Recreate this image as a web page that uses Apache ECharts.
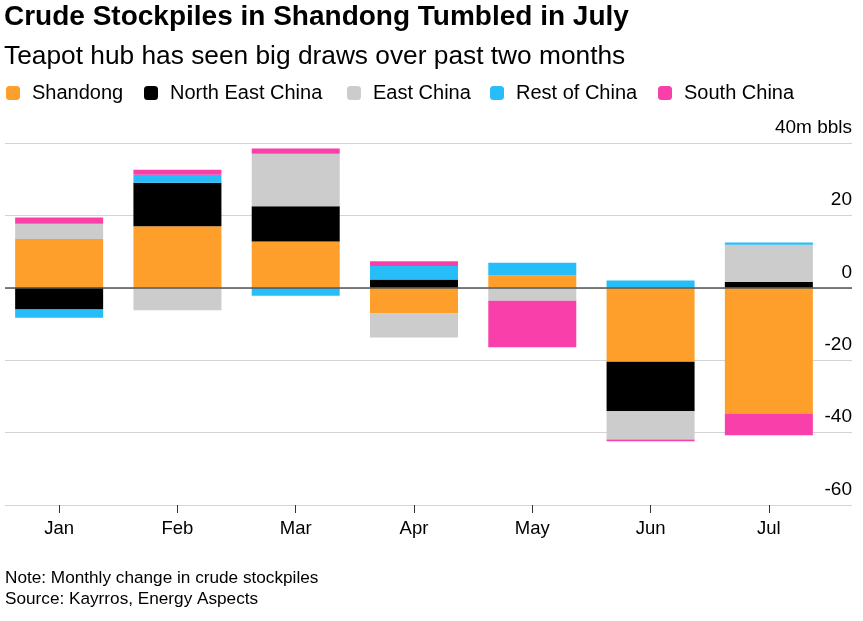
<!DOCTYPE html>
<html>
  <head>
    <meta charset="utf-8">
    <title>Crude Stockpiles in Shandong</title>
    <script src="https://cdn.jsdelivr.net/npm/echarts@6/dist/echarts.min.js"></script>
    <style>
      html, body { margin: 0; padding: 0; background: #fff; }
      #main { width: 863px; height: 621px; }
    </style>
  </head>
  <body>
    <div id="main"></div>
    <script>
        // monthly change in crude stockpiles, million barrels
        const months = ['Jan', 'Feb', 'Mar', 'Apr', 'May', 'Jun', 'Jul'];
        const shandong = [13.5, 17.0, 12.8, -7.1, 3.4, -20.4, -34.7];
        const northEast = [-6.0, 12.0, 9.7, 2.3, 0, -13.7, 1.6];
        const eastChina = [4.2, -6.2, 14.5, -6.6, -3.6, -7.8, 10.3];
        const restOfChina = [-2.3, 2.2, -2.2, 3.7, 3.5, 2.0, 0.6];
        const southChina = [1.7, 1.4, 1.5, 1.3, -12.8, -0.5, -6.0];
        const yTicks = [-60, -40, -20, 0, 20, 40];

        const names = ['Shandong', 'North East China', 'East China', 'Rest of China', 'South China'];
        const colors = ['#fd9f2a', '#000000', '#cccccc', '#27bdf8', '#f93fa9'];
        const values = [shandong, northEast, eastChina, restOfChina, southChina];
        const legendLeft = [6, 144, 347, 490, 658];
        const font = 'Liberation Sans, Arial, sans-serif';

        const chart = echarts.init(document.getElementById('main'));

        const bars = names.map(function (name, i) {
            return {
                name: name,
                type: 'bar',
                stack: 'total',
                xAxisIndex: 0,
                yAxisIndex: 0,
                barWidth: 88,
                z: 3,
                itemStyle: { color: colors[i] },
                emphasis: { disabled: true },
                data: values[i]
            };
        });

        const option = {
            animation: false,
            color: colors,
            textStyle: { fontFamily: font },
            title: [
                {
                    text: 'Crude Stockpiles in Shandong Tumbled in July',
                    subtext: 'Teapot hub has seen big draws over past two months',
                    left: 4,
                    top: 3,
                    padding: 0,
                    itemGap: 13,
                    textStyle: { fontFamily: font, fontSize: 28, fontWeight: 'bold', color: '#000' },
                    subtextStyle: { fontFamily: font, fontSize: 26.3, color: '#000' }
                },
                {
                    text: 'Note: Monthly change in crude stockpiles\nSource: Kayrros, Energy Aspects',
                    left: 5,
                    top: 568,
                    padding: 0,
                    textStyle: { fontFamily: font, fontSize: 17.2, fontWeight: 'normal', color: '#000', lineHeight: 21 }
                }
            ],
            legend: names.map(function (name, i) {
                return {
                    data: [name],
                    left: legendLeft[i],
                    top: 83,
                    padding: 0,
                    icon: 'roundRect',
                    itemWidth: 14,
                    itemHeight: 14,
                    selectedMode: false,
                    textStyle: { fontFamily: font, fontSize: 20, color: '#000', padding: [0, 0, 0, 7] }
                };
            }),
            grid: [
                { left: 0, right: 35, top: 143, bottom: 116 },
                { left: 5, right: 11, top: 143, bottom: 116 }
            ],
            xAxis: [
                {
                    type: 'category',
                    gridIndex: 0,
                    position: 'bottom',
                    data: months,
                    axisLine: { show: true, onZero: false, lineStyle: { color: 'rgba(0,0,0,0)' } },
                    axisTick: { show: true, alignWithLabel: true, length: 8, lineStyle: { color: '#333', width: 1 } },
                    axisLabel: { fontFamily: font, fontSize: 18.5, color: '#000', margin: 14 }
                },
                {
                    type: 'value',
                    gridIndex: 1,
                    min: 0,
                    max: 1,
                    show: false
                }
            ],
            yAxis: [
                {
                    type: 'value',
                    gridIndex: 0,
                    min: -60,
                    max: 40,
                    interval: 20,
                    show: false
                },
                {
                    type: 'value',
                    gridIndex: 1,
                    position: 'right',
                    min: yTicks[0],
                    max: yTicks[yTicks.length - 1],
                    interval: 20,
                    axisLine: { show: false },
                    axisTick: { show: false },
                    splitLine: { show: true, lineStyle: { color: '#d4d4d4', width: 1 } },
                    axisLabel: {
                        margin: 0,
                        align: 'right',
                        verticalAlign: 'bottom',
                        padding: [0, 0, 6, 0],
                        fontFamily: font,
                        fontSize: 19,
                        color: '#000',
                        formatter: function (v) { return v === 40 ? '40m bbls' : String(v); }
                    }
                }
            ],
            series: bars.concat([{
                type: 'line',
                xAxisIndex: 1,
                yAxisIndex: 1,
                data: [],
                z: 1,
                markLine: {
                    silent: true,
                    symbol: 'none',
                    label: { show: false },
                    lineStyle: { color: '#555', width: 1.5, type: 'solid' },
                    data: [{ yAxis: 0 }]
                }
            }])
        };

        chart.setOption(option);
    </script>
  </body>
</html>
